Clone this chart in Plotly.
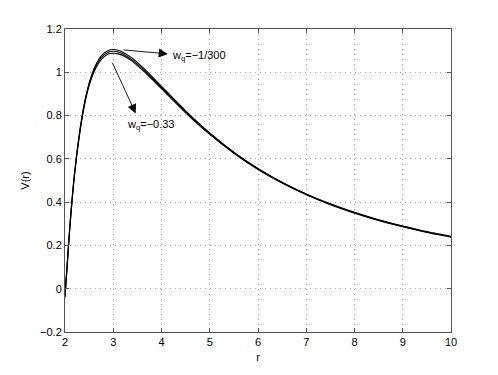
import plotly.graph_objects as go

# radial coordinate samples
r = [2.0, 2.05, 2.1, 2.2, 2.3, 2.4, 2.5, 2.6, 2.7, 2.8, 2.9, 3.0, 3.1, 3.2, 3.4,
     3.6, 3.8, 4.0, 4.5, 5.0, 5.5, 6.0, 6.5, 7.0, 7.5, 8.0, 8.5, 9.0, 9.5, 10.0]

# three nearly overlapping potential curves
v_top = [-0.03, 0.13, 0.29, 0.54, 0.72, 0.855, 0.95, 1.016, 1.060, 1.087, 1.101, 1.105,
         1.102, 1.093, 1.064, 1.025, 0.981, 0.935, 0.822, 0.720, 0.631, 0.556, 0.492,
         0.438, 0.392, 0.353, 0.319, 0.290, 0.264, 0.242]
v_mid = [-0.035, 0.125, 0.285, 0.535, 0.715, 0.85, 0.945, 1.009, 1.052, 1.079, 1.093, 1.097,
         1.094, 1.085, 1.056, 1.018, 0.975, 0.929, 0.817, 0.716, 0.628, 0.553, 0.490,
         0.436, 0.390, 0.351, 0.317, 0.288, 0.262, 0.240]
v_low = [-0.04, 0.12, 0.28, 0.53, 0.708, 0.843, 0.938, 1.001, 1.043, 1.070, 1.084, 1.088,
         1.085, 1.077, 1.049, 1.011, 0.969, 0.924, 0.813, 0.713, 0.626, 0.551, 0.488,
         0.434, 0.388, 0.349, 0.315, 0.286, 0.260, 0.238]

x_ticks = [2, 3, 4, 5, 6, 7, 8, 9, 10]
y_ticks = [-0.2, 0, 0.2, 0.4, 0.6, 0.8, 1, 1.2]
y_labels = ["\u22120.2", "0", "0.2", "0.4", "0.6", "0.8", "1", "1.2"]

FONT = "Liberation Sans, Arial, Helvetica, sans-serif"

fig = go.Figure()
for v in (v_top, v_mid, v_low):
    fig.add_trace(go.Scatter(x=r, y=v, mode="lines",
                             line=dict(color="black", width=1.1, shape="spline", smoothing=0.6),
                             showlegend=False, hoverinfo="skip"))

# arrows (tail on the curves, head towards the labels)
arrows = [((3.18, 1.104), (4.13, 1.085)), ((2.97, 1.05), (3.465, 0.81))]
for (tx, ty), (hx, hy) in arrows:
    fig.add_annotation(x=hx, y=hy, ax=tx, ay=ty, xref="x", yref="y", axref="x", ayref="y",
                       text="", showarrow=True, arrowhead=2, arrowsize=2.0,
                       arrowwidth=0.9, arrowcolor="black", standoff=0, startstandoff=0)

fig.add_annotation(x=4.17, y=1.076, xref="x", yref="y", text="w<sub>q</sub>=\u22121/300",
                   showarrow=False, xanchor="left", yanchor="middle",
                   font=dict(family=FONT, size=11, color="black"))
fig.add_annotation(x=3.24, y=0.757, xref="x", yref="y", text="w<sub>q</sub>=\u22120.33",
                   showarrow=False, xanchor="left", yanchor="middle",
                   font=dict(family=FONT, size=11, color="black"))

axis_common = dict(showline=True, linecolor="#555", linewidth=1, mirror="ticks",
                   ticks="inside", ticklen=4, tickcolor="#555", automargin=False,
                   showgrid=True, gridcolor="#a8a8a8", griddash="1px,4px", gridwidth=1,
                   zeroline=False, tickfont=dict(family=FONT, size=11, color="black"))

fig.update_xaxes(range=[2, 10], tickvals=x_ticks,
                 title=dict(text="r", font=dict(family=FONT, size=11, color="black"), standoff=6),
                 **axis_common)
fig.update_yaxes(range=[-0.2, 1.2], tickvals=y_ticks, ticktext=y_labels,
                 title=dict(text="V(r)", font=dict(family=FONT, size=11, color="black"), standoff=8),
                 **axis_common)

# page body adds an ~8px offset, so margins are trimmed to land the plot box in place
fig.update_layout(width=498, height=375, plot_bgcolor="white", paper_bgcolor="white",
                  margin=dict(l=57, r=55, t=21, b=51), showlegend=False)

fig.write_html("out.html")
